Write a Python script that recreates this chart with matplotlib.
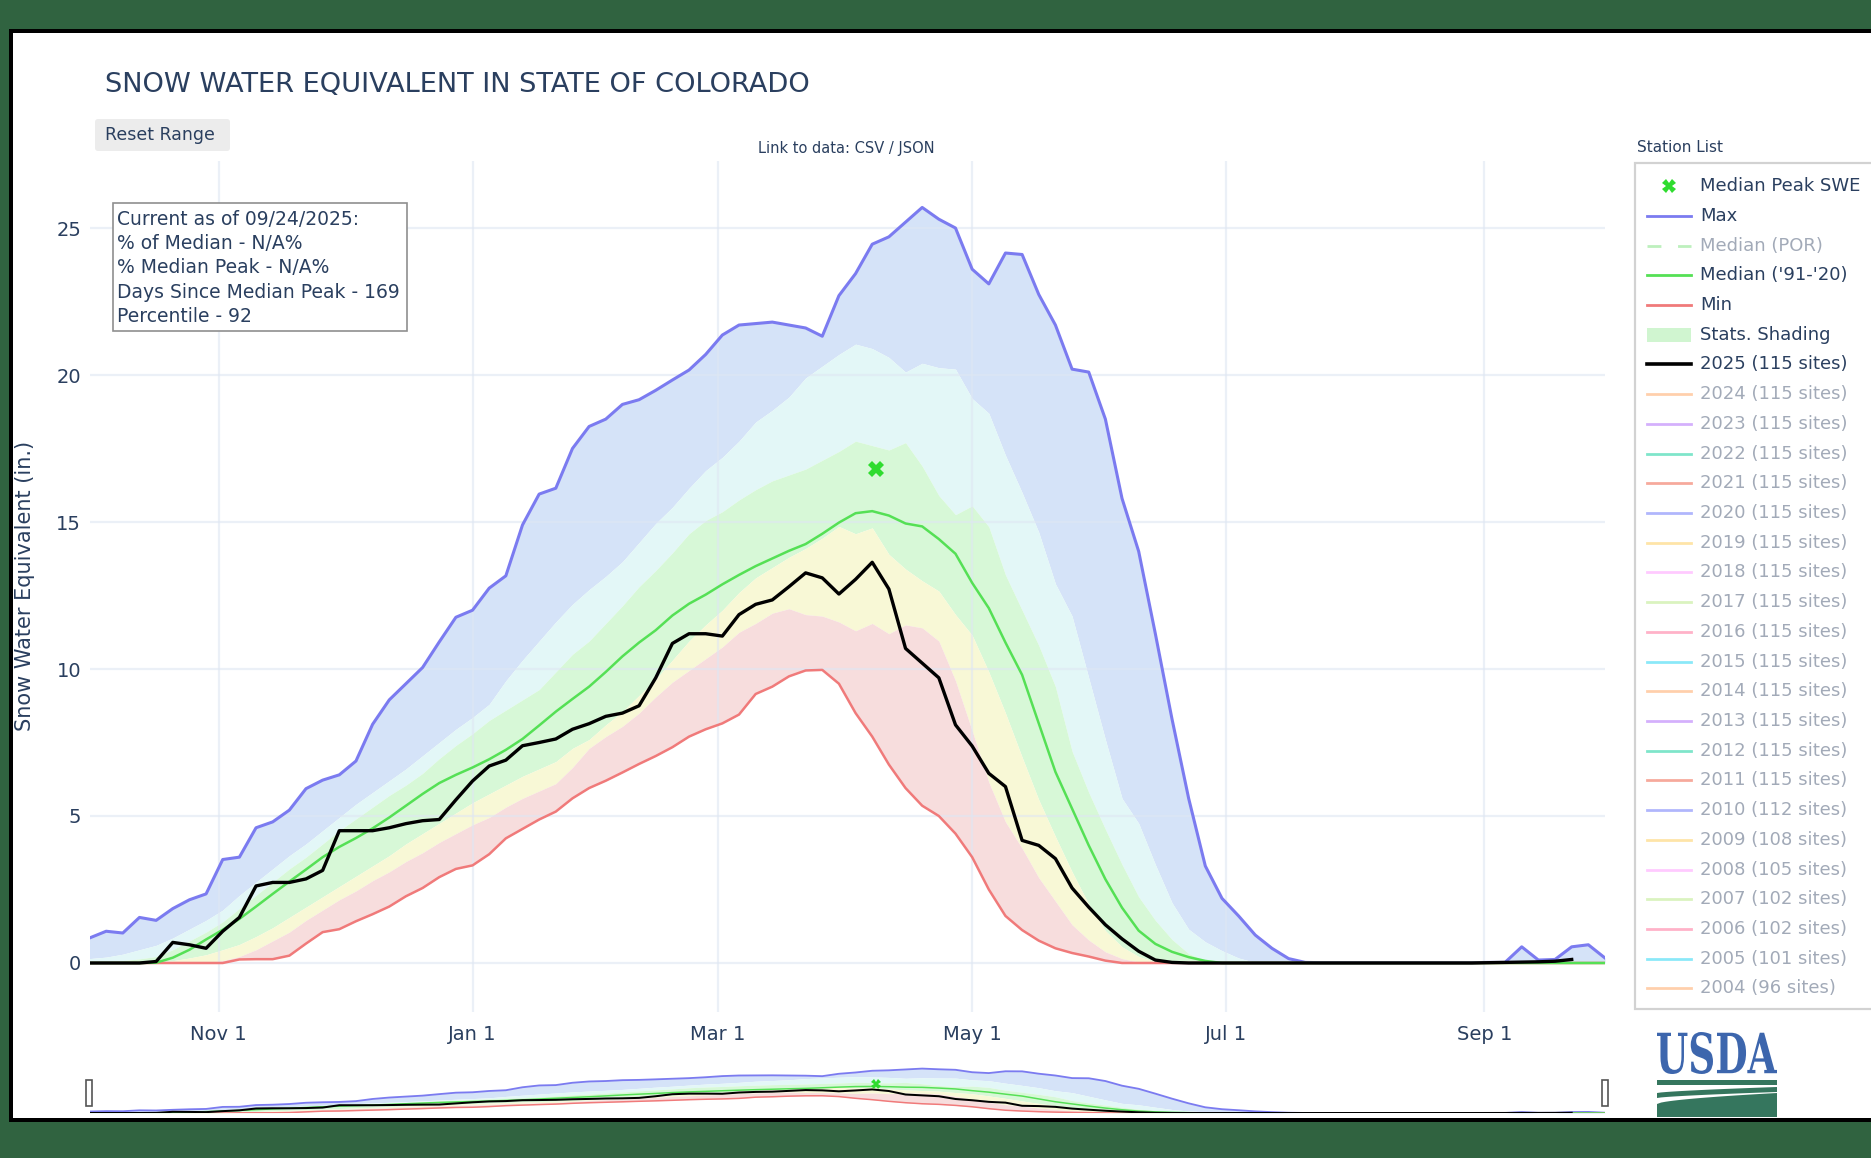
import numpy as np
import matplotlib.pyplot as plt
from matplotlib.patches import Rectangle, FancyBboxPatch, PathPatch, Polygon
from matplotlib.textpath import TextPath
from matplotlib.font_manager import FontProperties
from matplotlib.transforms import Affine2D

W, H = 1871, 1158
INK = '#2a3f5f'
FADED = '#a2aab8'

# water year 2025, sampled every 4 days (Oct 1 .. Sep 30)
dates = np.arange('2024-10-01', '2025-10-01', 4, dtype='datetime64[D]')

swe_max = [0.85, 1.08, 1.02, 1.55, 1.45, 1.85, 2.15, 2.35, 3.52, 3.6,
           4.6, 4.8, 5.2, 5.93, 6.22, 6.4, 6.87, 8.12, 8.95, 9.5,
           10.05, 10.92, 11.76, 12.0, 12.75, 13.17, 14.9, 15.95, 16.15, 17.5,
           18.25, 18.5, 19.0, 19.16, 19.48, 19.83, 20.17, 20.7, 21.36, 21.7,
           21.75, 21.8, 21.7, 21.6, 21.32, 22.7, 23.45, 24.45, 24.7, 25.2,
           25.7, 25.3, 25.0, 23.6, 23.1, 24.15, 24.1, 22.74, 21.7, 20.2,
           20.1, 18.5, 15.8, 14.0, 11.2, 8.3, 5.6, 3.3, 2.2, 1.6,
           0.95, 0.5, 0.15, 0.02, 0.01, 0.01, 0.01, 0.01, 0.01, 0.01,
           0.01, 0.01, 0.01, 0.01, 0.02, 0.02, 0.55, 0.1, 0.12, 0.55,
           0.62, 0.17]

pct90 = [0.15, 0.2, 0.3, 0.45, 0.6, 0.85, 1.15, 1.45, 1.8, 2.3,
         2.75, 3.2, 3.65, 4.05, 4.5, 4.95, 5.4, 5.8, 6.2, 6.6,
         7.05, 7.5, 7.95, 8.35, 8.8, 9.6, 10.3, 10.95, 11.6, 12.2,
         12.7, 13.15, 13.65, 14.3, 14.95, 15.5, 16.15, 16.75, 17.2, 17.75,
         18.4, 18.8, 19.25, 19.9, 20.3, 20.7, 21.05, 20.9, 20.6, 20.1,
         20.4, 20.25, 20.2, 19.2, 18.7, 17.27, 16.0, 14.65, 12.9, 11.8,
         9.7, 7.6, 5.6, 4.75, 3.35, 2.05, 1.15, 0.72, 0.42, 0.17,
         0.02, 0, 0, 0, 0, 0, 0, 0, 0, 0,
         0, 0, 0, 0, 0, 0, 0, 0, 0, 0,
         0, 0]

pct70 = [0.02, 0.04, 0.08, 0.14, 0.22, 0.45, 0.75, 1.05, 1.4, 1.85,
         2.3, 2.75, 3.2, 3.6, 4.05, 4.5, 4.9, 5.3, 5.7, 6.05,
         6.45, 6.95, 7.4, 7.8, 8.25, 8.6, 8.95, 9.3, 9.9, 10.5,
         10.95, 11.55, 12.15, 12.8, 13.35, 13.95, 14.6, 15.05, 15.35, 15.75,
         16.1, 16.4, 16.6, 16.8, 17.1, 17.4, 17.75, 17.6, 17.45, 17.7,
         16.9, 15.9, 15.25, 15.55, 14.84, 13.2, 12.0, 10.8, 9.4, 7.2,
         5.8, 4.55, 3.35, 2.25, 1.45, 0.8, 0.32, 0.08, 0, 0,
         0, 0, 0, 0, 0, 0, 0, 0, 0, 0,
         0, 0, 0, 0, 0, 0, 0, 0, 0, 0,
         0, 0]

median_9120 = [0, 0, 0, 0, 0.01, 0.18, 0.45, 0.8, 1.13, 1.5,
               1.92, 2.35, 2.77, 3.18, 3.6, 3.95, 4.25, 4.58, 4.95, 5.35,
               5.75, 6.12, 6.4, 6.65, 6.93, 7.25, 7.62, 8.08, 8.55, 8.98,
               9.4, 9.9, 10.43, 10.9, 11.32, 11.82, 12.22, 12.53, 12.88, 13.2,
               13.5, 13.76, 14.02, 14.25, 14.6, 14.98, 15.3, 15.37, 15.22, 14.95,
               14.85, 14.42, 13.92, 12.93, 12.07, 10.9, 9.8, 8.15, 6.5, 5.25,
               4.0, 2.85, 1.88, 1.1, 0.65, 0.38, 0.2, 0.07, 0, 0,
               0, 0, 0, 0, 0, 0, 0, 0, 0, 0,
               0, 0, 0, 0, 0, 0, 0, 0, 0, 0,
               0, 0]

pct30 = [0, 0, 0, 0, 0.02, 0.08, 0.17, 0.28, 0.45, 0.63,
         0.9, 1.2, 1.55, 1.9, 2.25, 2.6, 2.95, 3.3, 3.65, 4.05,
         4.4, 4.75, 5.1, 5.45, 5.75, 6.05, 6.35, 6.6, 6.85, 7.3,
         7.6, 8.1, 8.55, 9.1, 9.65, 10.3, 10.95, 11.5, 12.0, 12.6,
         13.1, 13.45, 13.8, 14.1, 14.45, 14.85, 14.6, 14.8, 13.9, 13.4,
         13.0, 12.65, 11.85, 11.15, 9.9, 8.5, 7.0, 5.55, 4.3, 3.1,
         2.0, 1.1, 0.55, 0.22, 0.05, 0, 0, 0, 0, 0,
         0, 0, 0, 0, 0, 0, 0, 0, 0, 0,
         0, 0, 0, 0, 0, 0, 0, 0, 0, 0,
         0, 0]

pct10 = [0, 0, 0, 0, 0, 0, 0, 0, 0.08, 0.22,
         0.45, 0.75, 1.05, 1.45, 1.8, 2.15, 2.45, 2.8, 3.1, 3.45,
         3.75, 4.1, 4.4, 4.7, 4.95, 5.3, 5.6, 5.85, 6.1, 6.65,
         7.3, 7.7, 8.05, 8.5, 9.05, 9.55, 9.95, 10.35, 10.75, 11.25,
         11.55, 11.9, 12.05, 11.85, 11.8, 11.6, 11.3, 11.55, 11.2, 11.5,
         11.4, 10.95, 9.6, 7.9, 6.15, 4.8, 3.9, 2.9, 2.1, 1.3,
         0.78, 0.38, 0.15, 0.03, 0, 0, 0, 0, 0, 0,
         0, 0, 0, 0, 0, 0, 0, 0, 0, 0,
         0, 0, 0, 0, 0, 0, 0, 0, 0, 0,
         0, 0]

swe_min = [0, 0, 0, 0, 0, 0, 0, 0, 0, 0.12,
           0.13, 0.13, 0.25, 0.66, 1.05, 1.15, 1.42, 1.66, 1.92, 2.27,
           2.55, 2.92, 3.2, 3.32, 3.7, 4.24, 4.56, 4.88, 5.15, 5.6,
           5.95, 6.2, 6.48, 6.77, 7.04, 7.34, 7.7, 7.95, 8.15, 8.45,
           9.15, 9.4, 9.75, 9.95, 9.97, 9.5, 8.5, 7.7, 6.75, 5.95,
           5.35, 5.0, 4.4, 3.6, 2.5, 1.6, 1.12, 0.76, 0.5, 0.34,
           0.22, 0.08, 0, 0, 0, 0, 0, 0, 0, 0,
           0, 0, 0, 0, 0, 0, 0, 0, 0, 0,
           0, 0, 0, 0, 0, 0, 0, 0, 0, 0,
           0, 0]

wy2025 = [0, 0, 0, 0, 0.05, 0.7, 0.62, 0.5, 1.08, 1.55,
          2.62, 2.74, 2.74, 2.86, 3.15, 4.5, 4.5, 4.5, 4.6, 4.74,
          4.84, 4.88, 5.55, 6.19, 6.7, 6.9, 7.39, 7.5, 7.62, 7.95,
          8.14, 8.39, 8.5, 8.75, 9.7, 10.87, 11.2, 11.2, 11.12, 11.85,
          12.2, 12.35, 12.8, 13.27, 13.1, 12.55, 13.05, 13.63, 12.72, 10.7,
          10.2, 9.7, 8.1, 7.38, 6.45, 6.0, 4.17, 4.0, 3.55, 2.55,
          1.9, 1.3, 0.82, 0.4, 0.1, 0.02, 0, 0, 0, 0,
          0, 0, 0, 0, 0, 0, 0, 0, 0, 0,
          0, 0, 0, 0, 0.01, 0.02, 0.03, 0.04, 0.06, 0.12,
          np.nan, np.nan]

peak_date = np.datetime64('2025-04-08')
peak_swe = 16.8

tick_dates = ['2024-11-01', '2025-01-01', '2025-03-01', '2025-05-01', '2025-07-01', '2025-09-01']
tick_labels = ['Nov 1', 'Jan 1', 'Mar 1', 'May 1', 'Jul 1', 'Sep 1']
y_ticks = [0, 5, 10, 15, 20, 25]

info_lines = ['Current as of 09/24/2025:', '% of Median - N/A%', '% Median Peak - N/A%',
              'Days Since Median Peak - 169', 'Percentile - 92']

years = list(range(2024, 2003, -1))
sites = [115] * 14 + [112, 108, 105, 102, 102, 101, 96]
palette = ['#FFA15A', '#AB63FA', '#00CC96', '#EF553B', '#636EFA',
           '#FECB52', '#FF97FF', '#B6E880', '#FF6692', '#19D3F3']

C_MAX, C_MIN, C_MED = '#7b7bf0', '#f07a7a', '#55e055'
bands = [(pct90, swe_max, '#d5e3f8'), (pct70, pct90, '#e3f7f7'),
         (pct30, pct70, '#d7f8d7'), (pct10, pct30, '#f8f8d6'),
         (swe_min, pct10, '#f7dddd')]


def fx(x):
    return x / W


def fy(y):
    return 1 - y / H


def draw_series(a, scale=1.0):
    for lo, hi, c in bands:
        a.fill_between(dates, lo, hi, color=c, lw=0)
    a.plot(dates, swe_max, color=C_MAX, lw=2.2 * scale, zorder=3)
    a.plot(dates, swe_min, color=C_MIN, lw=1.8 * scale, zorder=3)
    a.plot(dates, median_9120, color=C_MED, lw=1.8 * scale, zorder=3)
    a.plot(dates, wy2025, color='black', lw=2.4 * scale, zorder=4)
    a.plot(peak_date, peak_swe, marker='X', color='#2fdc2f', ms=11 * scale, mew=0, zorder=5)


fig = plt.figure(figsize=(W / 100, H / 100), dpi=100, facecolor='#306340')

# page frame
base = fig.add_axes([0, 0, 1, 1], zorder=-2)
base.set_xlim(0, W)
base.set_ylim(H, 0)
base.axis('off')
base.add_patch(Rectangle((9, 29), W, 1093, fc='black', ec='none'))
base.add_patch(Rectangle((13, 33), W, 1085, fc='white', ec='none'))

# main chart
ax = fig.add_axes([fx(89.5), fy(1012), 1515.5 / W, (1012 - 161) / H])
draw_series(ax)
ax.set_xlim(np.datetime64('2024-10-01'), np.datetime64('2025-09-30'))
ax.set_ylim(-1.667, 27.28)
ax.set_xticks([np.datetime64(d) for d in tick_dates])
ax.set_xticklabels(tick_labels)
ax.set_yticks(y_ticks)
ax.set_axisbelow('line')
ax.grid(color='#dfe7f3', lw=1.6, alpha=0.6)
for s in ax.spines.values():
    s.set_visible(False)
ax.tick_params(length=0, labelsize=14, labelcolor=INK)
ax.tick_params(axis='y', pad=6)
ax.tick_params(axis='x', pad=9)

# range slider preview
sax = fig.add_axes([fx(89.5), fy(1113), 1515.5 / W, (1113 - 1066) / H])
draw_series(sax, scale=0.6)
sax.set_xlim(np.datetime64('2024-10-01'), np.datetime64('2025-09-30'))
sax.set_ylim(0, 27.2)
sax.axis('off')

# annotations, legend, logo in pixel coordinates
deco = fig.add_axes([0, 0, 1, 1], zorder=5)
deco.set_xlim(0, W)
deco.set_ylim(H, 0)
deco.axis('off')
deco.patch.set_alpha(0)

deco.text(105, 85, 'SNOW WATER EQUIVALENT IN STATE OF COLORADO', fontsize=19.6,
          color=INK, va='center')
deco.add_patch(FancyBboxPatch((95, 119), 135, 32, boxstyle='round,pad=0,rounding_size=3',
                              fc='#ececec', ec='none'))
deco.text(105, 135, 'Reset Range', fontsize=12.5, color=INK, va='center')
deco.text(846, 148, 'Link to data: CSV / JSON', fontsize=10.5, color=INK,
          ha='center', va='center')
deco.text(25, 586, 'Snow Water Equivalent (in.)', fontsize=15, color=INK,
          rotation=90, ha='center', va='center')

deco.add_patch(Rectangle((113, 203), 294, 128, fc='white', ec='#8f8f8f', lw=1.2))
for k, line in enumerate(info_lines):
    deco.text(117, 219.6 + 24.15 * k, line, fontsize=13.5, color=INK, va='center')

# station list legend
deco.text(1637, 148, 'Station List', fontsize=11, color=INK, va='center')
deco.add_patch(Rectangle((1635, 163), W, 846, fc='white', ec='#d2d2d2', lw=1.6))
entries = [('Median Peak SWE', 'marker', '#2fdc2f', True),
           ('Max', 'line', C_MAX, True),
           ('Median (POR)', 'dash', '#bdf0bd', False),
           ("Median ('91-'20)", 'line', C_MED, True),
           ('Min', 'line', C_MIN, True),
           ('Stats. Shading', 'patch', '#d0f5d0', True),
           ('2025 (115 sites)', 'bold', 'black', True)]
for n, (yr, st) in enumerate(zip(years, sites)):
    entries.append((f'{yr} ({st} sites)', 'line', palette[n % 10], False))

for i, (label, kind, color, active) in enumerate(entries):
    y = 186.2 + 29.71 * i
    if kind == 'marker':
        deco.plot(1669, y, marker='X', color=color, ms=10, mew=0)
    elif kind == 'patch':
        deco.add_patch(Rectangle((1647, y - 7), 44, 14, fc=color, ec='none'))
    elif kind == 'dash':
        deco.plot([1647, 1691], [y, y], color=color, lw=2, dashes=(5, 6))
    else:
        deco.plot([1647, 1691], [y, y], color=color, lw=2.6 if kind == 'bold' else 2,
                  alpha=1 if active else 0.5)
    deco.text(1700, y, label, fontsize=13, va='center', color=INK if active else FADED)

# slider handles
for hx in (86, 1602):
    deco.add_patch(Rectangle((hx, 1080), 6, 26, fc='white', ec='#555555', lw=1.2))

# USDA mark
tp = TextPath((0, 0), 'USDA', size=1, prop=FontProperties(family='DejaVu Serif', weight='bold'))
bb = tp.get_extents()
tr = Affine2D().translate(-bb.x0, -bb.y0).scale(120 / bb.width, -42 / bb.height).translate(1657, 1074)
deco.add_patch(PathPatch(tr.transform_path(tp), fc='#3d66ad', ec='none'))
u = np.linspace(0, 1, 30)
gx = 1657 + 120 * u
LOGO = '#35765e'
deco.add_patch(Rectangle((1657, 1080), 120, 5, fc=LOGO, ec='none'))
swoosh_top = 1093 - 6 * u ** 0.7
swoosh_bot = swoosh_top + 5
deco.add_patch(Polygon(np.c_[np.r_[gx, gx[::-1]], np.r_[swoosh_top, swoosh_bot[::-1]]],
                       fc=LOGO, ec='none'))
field_top = 1104 - 11 * u ** 0.6
deco.add_patch(Polygon(np.c_[np.r_[gx, gx[::-1]], np.r_[field_top, np.full_like(gx, 1117)]],
                       fc=LOGO, ec='none'))

fig.savefig('out.png', dpi=100, facecolor=fig.get_facecolor())
